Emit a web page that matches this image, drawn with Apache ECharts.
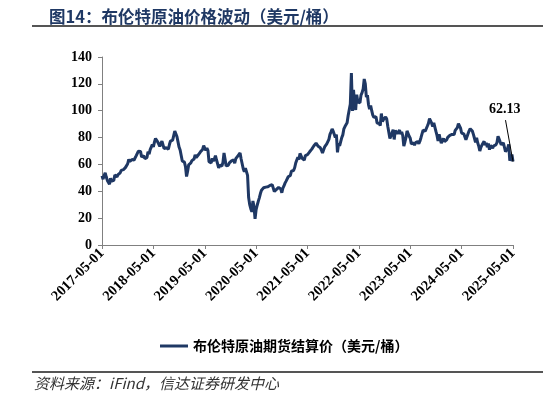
<!DOCTYPE html>
<html>
<head>
<meta charset="utf-8">
<script src="https://cdn.jsdelivr.net/npm/echarts@6/dist/echarts.min.js"></script>
<style>
  html, body { margin: 0; padding: 0; background: #fff; }
  #main { width: 543px; height: 397px; }
</style>
</head>
<body>
<div id="main"></div>
<script>
var myChart = echarts.init(document.getElementById('main'));

// 周度取样日（每月 1、8、15、22 日）
var sampleDays = ['01', '08', '15', '22'];
var startYear = 2017, startMonth = 5;

// 布伦特原油期货结算价，每行一个月，四个周度点
var brent = [
  // 2017-05 .. 2017-12
  51.5, 49.0, 51.8, 53.8,
  50.6, 48.1, 46.9, 45.2,
  49.7, 47.5, 48.9, 48.1,
  52.1, 52.1, 50.8, 52.4,
  52.8, 53.8, 55.6, 56.9,
  56.1, 55.6, 57.8, 57.4,
  60.5, 63.7, 62.2, 63.3,
  63.6, 63.4, 63.3, 65.0,
  // 2018
  66.6, 67.8, 69.9, 69.0,
  69.7, 65.5, 64.3, 66.4,
  64.4, 63.6, 65.1, 69.5,
  67.6, 71.0, 71.4, 74.7,
  73.1, 76.6, 79.3, 79.8,
  76.8, 76.5, 73.4, 75.6,
  77.3, 78.1, 71.8, 73.1,
  72.4, 72.3, 71.4, 74.8,
  77.4, 77.4, 78.1, 79.2,
  84.8, 84.0, 80.8, 79.8,
  72.9, 70.7, 66.6, 62.6,
  61.7, 61.7, 58.3, 51.0,
  // 2019
  54.9, 59.7, 60.6, 61.1,
  62.8, 61.5, 64.0, 67.1,
  65.1, 65.7, 67.2, 67.0,
  69.4, 70.6, 71.2, 74.0,
  72.2, 70.4, 72.2, 70.3,
  62.0, 62.3, 61.1, 64.5,
  62.4, 64.1, 66.5, 63.3,
  60.5, 57.4, 59.5, 59.3,
  58.7, 61.5, 68.5, 63.8,
  58.9, 58.2, 59.4, 61.2,
  60.2, 62.7, 62.4, 63.4,
  60.9, 64.3, 65.3, 66.4,
  // 2020
  66.0, 68.5, 64.0, 63.2,
  56.6, 54.5, 57.3, 58.5,
  51.9, 35.3, 30.1, 27.0,
  24.7, 32.8, 28.7, 19.5,
  26.4, 29.6, 32.5, 35.1,
  38.3, 40.8, 39.7, 42.6,
  42.0, 43.1, 43.8, 43.3,
  44.2, 44.4, 45.4, 45.0,
  44.4, 39.8, 40.0, 41.4,
  40.9, 42.9, 42.9, 41.8,
  38.9, 42.4, 44.0, 46.1,
  47.6, 48.8, 50.8, 50.1,
  // 2021
  51.8, 55.0, 55.7, 55.5,
  57.5, 61.1, 63.3, 65.2,
  63.7, 68.2, 68.9, 64.5,
  64.9, 63.2, 66.6, 66.6,
  67.3, 68.3, 69.4, 68.5,
  71.4, 72.2, 73.9, 74.5,
  75.8, 74.5, 73.5, 72.2,
  72.4, 70.7, 68.6, 68.8,
  73.0, 72.9, 75.3, 76.2,
  78.7, 82.4, 84.3, 86.4,
  84.7, 83.4, 80.0, 82.3,
  69.0, 75.4, 73.9, 73.8,
  // 2022
  80.0, 82.0, 86.5, 88.2,
  89.5, 91.0, 96.5, 97.9,
  105.0, 128.0, 99.9, 115.6,
  104.4, 100.6, 112.0, 106.7,
  105.9, 105.9, 111.6, 113.4,
  116.3, 123.6, 120.0, 110.1,
  111.6, 104.6, 101.2, 103.9,
  100.0, 96.7, 95.1, 96.5,
  95.6, 90.8, 91.0, 90.5,
  88.9, 97.9, 92.0, 93.5,
  94.7, 95.4, 93.9, 88.4,
  87.0, 79.4, 81.2, 80.9,
  // 2023
  85.9, 78.6, 85.3, 86.2,
  82.8, 83.7, 85.6, 82.6,
  84.3, 81.5, 73.7, 76.7,
  79.9, 85.0, 86.3, 81.0,
  79.5, 75.2, 75.2, 76.0,
  74.3, 76.3, 75.7, 77.1,
  75.4, 77.3, 79.9, 79.6,
  85.6, 85.3, 84.8, 83.6,
  88.6, 90.6, 94.1, 93.3,
  90.7, 88.2, 90.9, 92.2,
  84.6, 81.6, 77.4, 82.5,
  78.9, 75.8, 76.6, 79.4,
  // 2024
  77.0, 76.1, 78.3, 80.1,
  78.7, 81.6, 82.8, 82.3,
  83.6, 82.2, 85.3, 85.8,
  87.4, 90.4, 90.1, 87.0,
  83.4, 83.2, 82.8, 82.9,
  78.4, 78.0, 82.8, 85.0,
  86.6, 85.8, 84.9, 82.4,
  79.5, 76.5, 79.8, 76.1,
  73.6, 70.0, 72.8, 74.4,
  73.6, 77.2, 74.3, 76.0,
  72.8, 75.6, 71.0, 74.2,
  72.9, 72.1, 73.9, 72.6,
  // 2025-01 .. 2025-05-01
  74.6, 76.2, 81.0, 79.0,
  76.8, 74.7, 75.4, 76.0,
  72.8, 69.5, 70.6, 72.0,
  74.9, 62.8, 64.9, 67.4,
  62.13
];

// 日期类目
var dates = [];
for (var i = 0; i < brent.length; i++) {
    var m = startMonth - 1 + Math.floor(i / 4);
    var y = startYear + Math.floor(m / 12);
    var mm = (m % 12) + 1;
    dates.push(y + '-' + (mm < 10 ? '0' + mm : mm) + '-' + sampleDays[i % 4]);
}

var lastDate = dates[dates.length - 1];
var lastValue = brent[brent.length - 1];
var calloutFrom = ['2025-03-08', 93.0];

var isYearTick = function (idx, val) {
    return String(val).slice(5) === '05-01';
};

var serif = '"Liberation Serif", "Times New Roman", serif';
var cjk = '"Noto Sans CJK SC", sans-serif';

var option = {
    backgroundColor: '#fff',
    animation: false,
    title: {
        text: '图14：布伦特原油价格波动（美元/桶）',
        left: 44,
        top: 3,
        textStyle: {
            color: '#1f3864',
            fontSize: 16.5,
            fontWeight: 'bold',
            fontFamily: cjk
        }
    },
    legend: {
        data: ['布伦特原油期货结算价（美元/桶）'],
        left: 155,
        top: 334,
        icon: 'rect',
        itemWidth: 28,
        itemHeight: 3,
        itemGap: 4,
        textStyle: {
            color: '#000',
            fontSize: 14,
            fontWeight: 'bold',
            fontFamily: cjk
        }
    },
    grid: {
        left: 102,
        right: 30,
        top: 57,
        bottom: 152
    },
    xAxis: {
        type: 'category',
        boundaryGap: false,
        data: dates,
        axisLine: { lineStyle: { color: '#808080', width: 1 } },
        axisTick: {
            show: true,
            interval: isYearTick,
            length: 4,
            lineStyle: { color: '#808080' }
        },
        axisLabel: {
            interval: isYearTick,
            rotate: 45,
            margin: 6,
            color: '#000',
            fontSize: 14.5,
            fontWeight: 'bold',
            fontFamily: serif
        },
        splitLine: { show: false }
    },
    yAxis: {
        type: 'value',
        min: 0,
        max: 140,
        interval: 20,
        axisLine: { show: true, lineStyle: { color: '#808080', width: 1 } },
        axisTick: { show: true, length: 4, lineStyle: { color: '#808080' } },
        axisLabel: {
            color: '#000',
            fontSize: 14,
            fontWeight: 'bold',
            fontFamily: serif,
            margin: 10
        },
        splitLine: { show: false }
    },
    series: [{
        name: '布伦特原油期货结算价（美元/桶）',
        type: 'line',
        data: brent,
        symbol: 'none',
        lineStyle: { color: '#1f3864', width: 3 },
        itemStyle: { color: '#1f3864' },
        markLine: {
            silent: true,
            symbol: ['none', 'none'],
            lineStyle: { color: '#000', width: 1, type: 'solid' },
            label: {
                show: true,
                position: 'start',
                formatter: String(lastValue),
                color: '#000',
                fontSize: 14,
                fontWeight: 'bold',
                fontFamily: serif,
                distance: 4
            },
            data: [[
                { coord: calloutFrom },
                { coord: [lastDate, lastValue] }
            ]]
        }
    }],
    graphic: [
        {
            type: 'line',
            shape: { x1: 32, y1: 26, x2: 543, y2: 26 },
            style: { stroke: '#555', lineWidth: 2 }
        },
        {
            type: 'line',
            shape: { x1: 32, y1: 372, x2: 543, y2: 372 },
            style: { stroke: '#555', lineWidth: 2 }
        },
        {
            type: 'text',
            left: 34,
            top: 376,
            style: {
                text: '资料来源：iFind，信达证券研发中心',
                fill: '#333',
                font: 'italic 15px "Noto Sans CJK SC", sans-serif'
            }
        }
    ]
};

myChart.setOption(option);
</script>
</body>
</html>
